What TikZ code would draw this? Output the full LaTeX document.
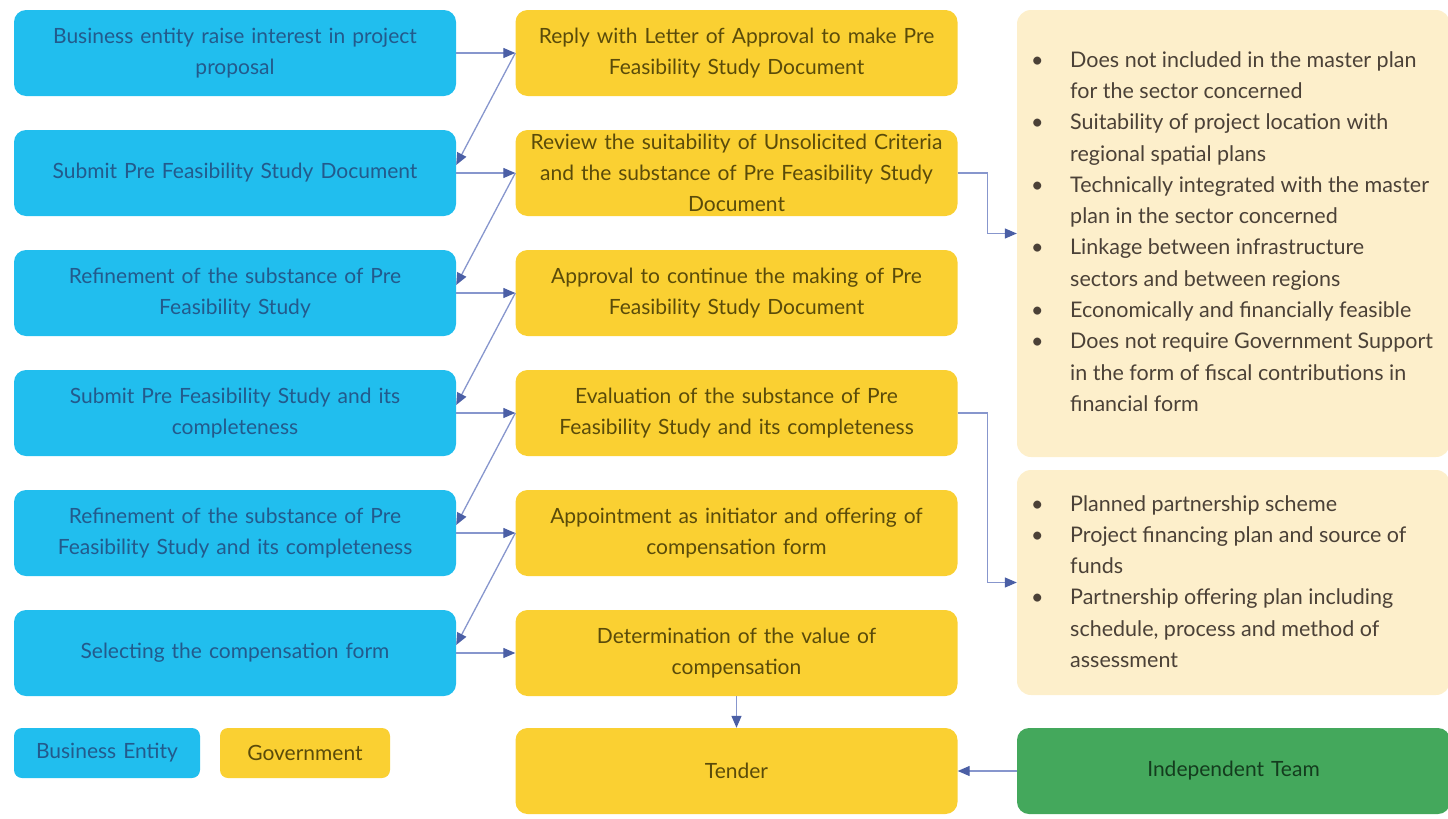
\documentclass[tikz,border=0pt]{standalone}
\usepackage{fontspec}
\setmainfont{Lato}
\usetikzlibrary{arrows.meta,calc}
\definecolor{bfill}{RGB}{33,190,238}
\definecolor{yfill}{RGB}{250,208,50}
\definecolor{cfill}{RGB}{253,239,203}
\definecolor{gfill}{RGB}{68,168,92}
\definecolor{btext}{RGB}{35,90,140}
\definecolor{ytext}{RGB}{90,75,10}
\definecolor{ctext}{RGB}{75,65,55}
\definecolor{gtext}{RGB}{20,60,30}
\definecolor{lline}{RGB}{135,150,205}
\definecolor{ltip}{RGB}{75,95,165}
\begin{document}
\begin{tikzpicture}[x=1pt,y=-1pt,
  box/.style={rounded corners=12pt, minimum width=442pt, minimum height=86pt, inner sep=0pt, align=center, text width=430pt, font=\fontsize{21}{31}\selectfont},
  bbox/.style={box, fill=bfill, text=btext},
  ybox/.style={box, fill=yfill, text=ytext},
  conn/.style={draw=lline, line width=1.3pt, -{Triangle[length=12pt,width=10pt,color=ltip]}},
  listtxt/.style={anchor=west, inner sep=0pt, text=ctext, font=\fontsize{21.5}{31.3}\selectfont}
]
\useasboundingbox (0,0) rectangle (1448,819);
\clip (0,0) rectangle (1448,819);
% left column
\node[bbox] (b1) at (235,53) {Business entity raise interest in project\\proposal};
\node[bbox] (b2) at (235,173) {Submit Pre Feasibility Study Document};
\node[bbox] (b3) at (235,293) {Refinement of the substance of Pre\\Feasibility Study};
\node[bbox] (b4) at (235,413) {Submit Pre Feasibility Study and its\\completeness};
\node[bbox] (b5) at (235,533) {Refinement of the substance of Pre\\Feasibility Study and its completeness};
\node[bbox] (b6) at (235,653) {Selecting the compensation form};
% middle column
\node[ybox] (y1) at (736.5,53) {Reply with Letter of Approval to make Pre\\Feasibility Study Document};
\node[ybox] (y2) at (736.5,173) {Review the suitability of Unsolicited Criteria\\and the substance of Pre Feasibility Study\\Document};
\node[ybox] (y3) at (736.5,293) {Approval to continue the making of Pre\\Feasibility Study Document};
\node[ybox] (y4) at (736.5,413) {Evaluation of the substance of Pre\\Feasibility Study and its completeness};
\node[ybox] (y5) at (736.5,533) {Appointment as initiator and offering of\\compensation form};
\node[ybox] (y6) at (736.5,653) {Determination of the value of\\compensation};
\node[ybox] (t) at (736.5,771) {Tender};
% legend
\node[bbox, minimum width=186pt, minimum height=50pt, text width=180pt, rounded corners=8pt] (lb) at (107,753) {Business Entity};
\node[ybox, minimum width=170pt, minimum height=50pt, text width=160pt, rounded corners=8pt] (ly) at (305,753) {Government};
% right column
\node[rounded corners=14pt, fill=cfill, minimum width=433pt, minimum height=447pt, inner sep=0pt] (c1) at (1233.5,233.5) {};
\node[rounded corners=14pt, fill=cfill, minimum width=433pt, minimum height=225pt, inner sep=0pt] (c2) at (1233.5,582.5) {};
\node[box, fill=gfill, text=gtext, minimum width=433pt, text width=420pt] (g) at (1233.5,771) {Independent Team};
\node[listtxt] (l1) at (1031,233) {\begin{tabular}{@{}p{39pt}@{}l@{}}
\textbullet & Does not included in the master plan\\
 & for the sector concerned\\
\textbullet & Suitability of project location with\\
 & regional spatial plans\\
\textbullet & Technically integrated with the master\\
 & plan in the sector concerned\\
\textbullet & Linkage between infrastructure\\
 & sectors and between regions\\
\textbullet & Economically and financially feasible\\
\textbullet & Does not require Government Support\\
 & in the form of fiscal contributions in\\
 & financial form
\end{tabular}};
\node[listtxt] (l2) at (1031,583) {\begin{tabular}{@{}p{39pt}@{}l@{}}
\textbullet & Planned partnership scheme\\
\textbullet & Project financing plan and source of\\
 & funds\\
\textbullet & Partnership offering plan including\\
 & schedule, process and method of\\
 & assessment
\end{tabular}};
% connectors
\foreach \i in {1,...,6} { \draw[conn] (b\i.east) -- (y\i.west); }
\foreach \i/\j in {1/2,2/3,3/4,4/5,5/6} { \draw[conn] (y\i.west) -- ($(b\j.east)+(0,-8)$); }
\draw[conn] (y2.east) -- ++(30,0) |- (c1.west);
\draw[conn] (y4.east) -- ++(30,0) |- (c2.west);
\draw[conn] (y6.south) -- (t.north);
\draw[conn] (g.west) -- (t.east);
\end{tikzpicture}
\end{document}
